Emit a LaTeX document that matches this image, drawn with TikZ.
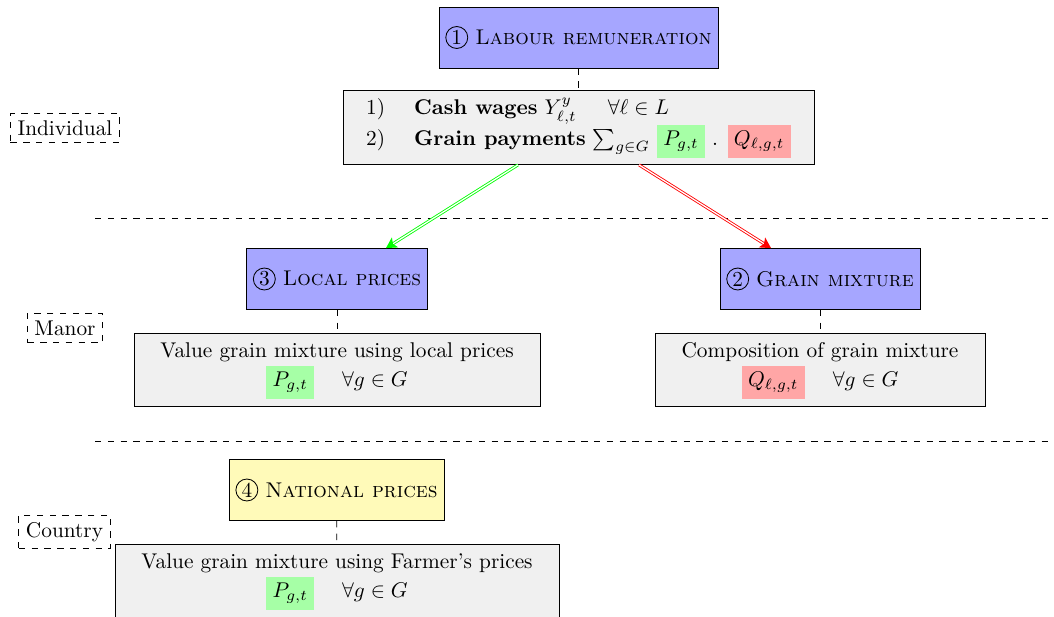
\documentclass[tikz,border=0pt]{standalone}
\usetikzlibrary{arrows.meta}
\definecolor{stageblue}{RGB}{166,166,255}
\definecolor{stageyellow}{RGB}{255,250,185}
\definecolor{infogray}{RGB}{240,240,240}
\definecolor{hlgreen}{RGB}{166,255,166}
\definecolor{hlred}{RGB}{255,166,166}
\newcommand{\circnum}[1]{\tikz[baseline=(cnum.base)]\node[draw,circle,inner sep=0pt,minimum size=10.3pt,line width=0.4pt](cnum){#1};}
\newcommand{\hlg}[1]{\colorbox{hlgreen}{$#1$}}
\newcommand{\hlr}[1]{\colorbox{hlred}{$#1$}}
\begin{document}
\begin{tikzpicture}[x=0.4690pt,y=-0.4690pt,
  stage/.style={draw, line width=0.4pt, minimum height=28.6pt, inner sep=3pt},
  infobox/.style={draw, line width=0.4pt, fill=infogray, minimum height=34.2pt, inner sep=3pt},
  level/.style={draw, dashed, line width=0.4pt},
  vlink/.style={dashed, line width=0.4pt},
  sepline/.style={dashed, line width=0.4pt},
  garrow/.style={double, draw=green, line width=0.4pt, double distance=0.6pt, -{Stealth[length=5pt,width=5.5pt,inset=1.2pt,fill=green]}},
  rarrow/.style={double, draw=red, line width=0.4pt, double distance=0.6pt, -{Stealth[length=5pt,width=5.5pt,inset=1.2pt,fill=red]}}]
\useasboundingbox (0,0) rectangle (1054,616);
% separators
\coordinate (s1a) at (95,218);
\coordinate (s1b) at (1054,218);
\coordinate (s2a) at (95,441);
\coordinate (s2b) at (1054,441);
\draw[sepline] (s1a) -- (s1b);
\draw[sepline] (s2a) -- (s2b);
% level labels
\node[level] (lind) at (65,128) {Individual};
\node[level] (lman) at (65,328) {Manor};
\node[level] (lcty) at (64.5,532) {Country};
% stages
\node[stage, fill=stageblue, minimum width=130.9pt] (n1) at (578.5,37.5) {\circnum{1} \textsc{Labour remuneration}};
\node[stage, fill=stageblue, minimum width=84.4pt] (n3) at (337,279) {\circnum{3} \textsc{Local prices}};
\node[stage, fill=stageblue, minimum width=93.8pt] (n2) at (820,279) {\circnum{2} \textsc{Grain mixture}};
\node[stage, fill=stageyellow, minimum width=100.8pt] (n4) at (336.5,490) {\circnum{4} \textsc{National prices}};
% info boxes
\node[infobox, minimum width=220.9pt] (cash) at (578.5,127.5) {%
  \begin{tabular}{@{}l@{\hspace{13.6pt}}l@{}}
  1) & \textbf{Cash wages} $Y^y_{\ell,t}$\hspace{14.6pt}$\forall \ell \in L$\\[1pt]
  2) & \textbf{Grain payments} $\sum_{g\in G}$ \hlg{P_{g,t}} . \hlr{Q_{\ell,g,t}}
  \end{tabular}};
\node[infobox, minimum width=190.4pt] (local) at (337,369.5) {%
  \begin{tabular}{@{}c@{}}
  Value grain mixture using local prices\\
  \hlg{P_{g,t}}\hspace{13.1pt}$\forall g \in G$
  \end{tabular}};
\node[infobox, minimum width=154.8pt] (comp) at (820,369.5) {%
  \begin{tabular}{@{}c@{}}
  Composition of grain mixture\\
  \hlr{Q_{\ell,g,t}}\hspace{13.1pt}$\forall g \in G$
  \end{tabular}};
\node[infobox, minimum width=208.3pt] (farm) at (337,580.5) {%
  \begin{tabular}{@{}c@{}}
  Value grain mixture using Farmer’s prices\\
  \hlg{P_{g,t}}\hspace{13.1pt}$\forall g \in G$
  \end{tabular}};
% dashed links
\draw[vlink] (n1) -- (cash);
\draw[vlink] (n3) -- (local);
\draw[vlink] (n2) -- (comp);
\draw[vlink] (n4) -- (farm);
% arrows
\coordinate (gstart) at ([xshift=-28.4pt]cash.south);
\coordinate (rstart) at ([xshift=28.4pt]cash.south);
\draw[garrow] (gstart) -- (n3);
\draw[rarrow] (rstart) -- (n2);
\end{tikzpicture}
\end{document}
